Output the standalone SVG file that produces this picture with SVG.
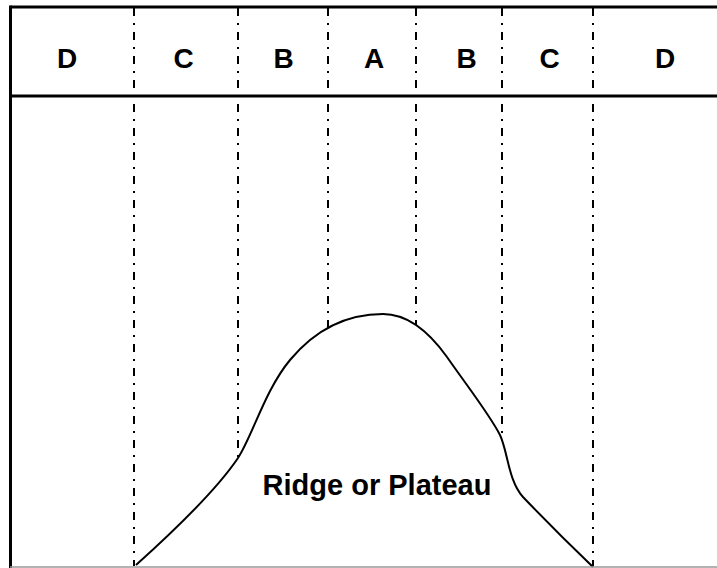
<svg xmlns="http://www.w3.org/2000/svg" width="717" height="568" viewBox="0 0 717 568">
<style>
.frame{stroke:#000;stroke-width:3;fill:none}
.div{stroke:#000;stroke-width:2;stroke-dasharray:8 7 2 7;fill:none}
.lbl{font-family:"Liberation Sans",Arial,sans-serif;font-weight:bold;font-size:28px;fill:#000;text-anchor:middle}
.curve{stroke:#000;stroke-width:2;fill:#fff}
</style>
<rect width="717" height="568" fill="#fff"/>
<g id="frame">
<line class="frame" x1="10.5" y1="7" x2="717" y2="7"/>
<line class="frame" x1="10.5" y1="5.5" x2="10.5" y2="568"/>
<line class="frame" x1="10.5" y1="96" x2="717" y2="96"/>
</g>
<g id="dividers">
<line class="div" x1="134" y1="8" x2="134" y2="566"/>
<line class="div" x1="238" y1="8" x2="238" y2="566"/>
<line class="div" x1="328" y1="8" x2="328" y2="566"/>
<line class="div" x1="416" y1="8" x2="416" y2="566"/>
<line class="div" x1="502" y1="8" x2="502" y2="566"/>
<line class="div" x1="593" y1="8" x2="593" y2="566"/>
</g>
<g id="zones">
<text class="lbl" x="67" y="67.5">D</text>
<text class="lbl" x="183.5" y="67.5">C</text>
<text class="lbl" x="283.5" y="67.5">B</text>
<text class="lbl" x="374" y="67.5">A</text>
<text class="lbl" x="466.5" y="67.5">B</text>
<text class="lbl" x="549.5" y="67.5">C</text>
<text class="lbl" x="665" y="67.5">D</text>
</g>
<g id="ridge">
<path d="M136,567 C175,530 215,492 238,458 C252,437 265,390 290,360 C305,342 335,314 383,314 C400,314 422,322 447,357 C465,383 490,415 500,435 C508,452 508,480 523,497 C545,520 570,545 594,567 Z" fill="#fff" stroke="none"/>
<path class="curve" fill="none" d="M136,565 C175,530 215,492 238,458 C252,437 265,390 290,360 C305,342 335,314 383,314 C400,314 422,322 447,357 C465,383 490,415 500,435 C508,452 508,480 523,497 C545,520 570,545 593,567" style="fill:none"/>
<text class="lbl" x="377" y="495" style="font-size:29px">Ridge or Plateau</text>
</g>
<line id="baseline" x1="10" y1="567" x2="717" y2="567" stroke="#999" stroke-width="1.5"/>
</svg>
